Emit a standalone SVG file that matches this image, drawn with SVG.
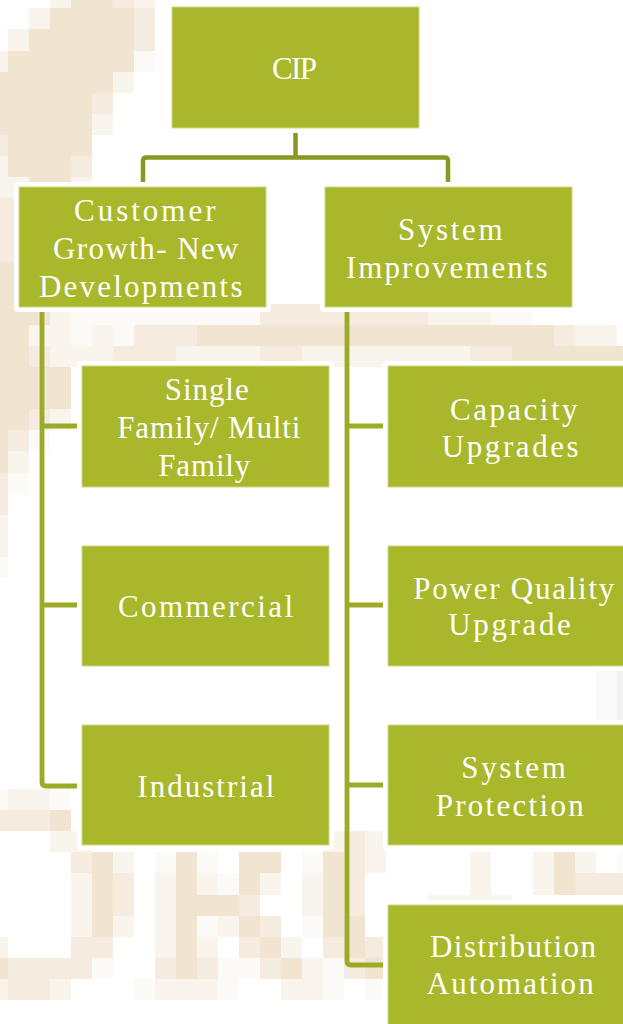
<svg xmlns="http://www.w3.org/2000/svg" width="623" height="1024" viewBox="0 0 623 1024">
  <style>
    .d { fill: #f1e5d1; }
    .m { fill: #f5ecdf; }
    .l { fill: #f9f4ec; }
    .v { fill: #fcfaf6; }
    .frame { fill: #ffffff; }
    .box { fill: #a8b82a; stroke: #cdd88a; stroke-width: 1; }
    .lbl { font-family: "Liberation Serif", "Times New Roman", serif; font-size: 31px; fill: #ffffff; }
    .trunk { fill: none; stroke: #8b981f; stroke-width: 4.5; }
    .rail { fill: none; stroke: #9bab27; stroke-width: 4.8; }
  </style>

  <rect width="623" height="1024" fill="#ffffff"/>

  <!-- pixelated backdrop, one unit = one block -->
  <g id="backdrop" transform="translate(-12.7 -12.8) scale(21 21.1)" shape-rendering="crispEdges">
    <rect x="3" y="0" width="1" height="1" class="l"/><rect x="4" y="0" width="2" height="1" class="d"/><rect x="6" y="0" width="1" height="1" class="m"/><rect x="7" y="0" width="1" height="1" class="l"/>
    <rect x="2" y="1" width="1" height="1" class="l"/><rect x="3" y="1" width="4" height="1" class="d"/><rect x="7" y="1" width="1" height="1" class="m"/>
    <rect x="1" y="2" width="1" height="1" class="l"/><rect x="2" y="2" width="5" height="1" class="d"/><rect x="7" y="2" width="1" height="1" class="m"/>
    <rect x="0" y="3" width="1" height="1" class="l"/><rect x="1" y="3" width="6" height="1" class="d"/><rect x="7" y="3" width="1" height="1" class="v"/>
    <rect x="0" y="4" width="6" height="1" class="d"/><rect x="6" y="4" width="1" height="1" class="l"/>
    <rect x="0" y="5" width="5" height="1" class="d"/><rect x="5" y="5" width="1" height="1" class="m"/>
    <rect x="0" y="6" width="5" height="1" class="d"/><rect x="5" y="6" width="1" height="1" class="l"/>
    <rect x="0" y="7" width="1" height="1" class="m"/><rect x="1" y="7" width="4" height="1" class="d"/>
    <rect x="0" y="8" width="1" height="1" class="l"/><rect x="1" y="8" width="3" height="1" class="d"/><rect x="4" y="8" width="1" height="1" class="m"/>
    <rect x="0" y="9" width="2" height="1" class="l"/><rect x="2" y="9" width="2" height="1" class="d"/><rect x="4" y="9" width="1" height="1" class="l"/>
    <rect x="0" y="10" width="2" height="3" class="m"/><rect x="2" y="10" width="2" height="3" class="d"/>
    <rect x="0" y="13" width="4" height="2" class="d"/>
    <rect x="0" y="15" width="3" height="1" class="d"/><rect x="3" y="15" width="1" height="1" class="l"/><rect x="4" y="15" width="9" height="1" class="v"/><rect x="13" y="15" width="8" height="1" class="m"/><rect x="21" y="15" width="3" height="1" class="l"/><rect x="24" y="15" width="2" height="1" class="v"/>
    <rect x="0" y="16" width="2" height="1" class="d"/><rect x="2" y="16" width="2" height="1" class="l"/><rect x="4" y="16" width="1" height="1" class="v"/><rect x="5" y="16" width="1" height="1" class="l"/><rect x="6" y="16" width="1" height="1" class="v"/><rect x="7" y="16" width="3" height="1" class="m"/><rect x="10" y="16" width="17" height="1" class="d"/><rect x="27" y="16" width="1" height="1" class="m"/><rect x="28" y="16" width="2" height="1" class="l"/>
    <rect x="0" y="17" width="2" height="1" class="d"/><rect x="2" y="17" width="1" height="1" class="m"/><rect x="3" y="17" width="3" height="1" class="l"/><rect x="6" y="17" width="3" height="1" class="m"/><rect x="9" y="17" width="4" height="1" class="l"/><rect x="13" y="17" width="2" height="1" class="m"/><rect x="15" y="17" width="8" height="1" class="l"/><rect x="23" y="17" width="2" height="1" class="m"/><rect x="25" y="17" width="6" height="1" class="d"/>
    <rect x="0" y="18" width="4" height="2" class="d"/>
    <rect x="0" y="20" width="2" height="1" class="d"/><rect x="2" y="20" width="1" height="1" class="m"/><rect x="3" y="20" width="1" height="1" class="l"/>
    <rect x="0" y="21" width="1" height="1" class="d"/><rect x="1" y="21" width="1" height="1" class="m"/><rect x="2" y="21" width="1" height="1" class="v"/>
    <rect x="0" y="22" width="1" height="1" class="d"/><rect x="1" y="22" width="1" height="1" class="l"/>
    <rect x="0" y="23" width="1" height="1" class="m"/><rect x="1" y="23" width="1" height="1" class="v"/>
    <rect x="0" y="24" width="1" height="1" class="m"/>
    <rect x="0" y="25" width="1" height="2" class="l"/>
    <rect x="0" y="27" width="1" height="1" class="v"/>
    <rect x="29" y="32" width="1" height="3" fill="#f9f9f9"/><rect x="30" y="32" width="1" height="3" fill="#f2f2f2"/>
    <rect x="0" y="38" width="1" height="1" class="v"/><rect x="1" y="38" width="2" height="1" class="l"/><rect x="3" y="38" width="1" height="1" class="v"/>
    <rect x="0" y="39" width="3" height="1" class="m"/><rect x="3" y="39" width="1" height="1" class="d"/>
    <rect x="3" y="40" width="2" height="1" class="l"/><rect x="16" y="40" width="1" height="1" class="l"/><rect x="17" y="40" width="1" height="1" class="m"/><rect x="18" y="40" width="1" height="1" class="l"/>
    <rect x="4" y="41" width="1" height="1" class="m"/><rect x="5" y="41" width="1" height="1" class="d"/><rect x="6" y="41" width="1" height="1" class="l"/><rect x="8" y="41" width="1" height="1" class="v"/><rect x="9" y="41" width="1" height="1" class="d"/><rect x="10" y="41" width="1" height="1" class="v"/><rect x="12" y="41" width="2" height="1" class="d"/><rect x="15" y="41" width="1" height="1" class="v"/><rect x="16" y="41" width="1" height="1" class="d"/><rect x="17" y="41" width="1" height="1" class="m"/><rect x="18" y="41" width="1" height="1" class="l"/><rect x="23" y="41" width="1" height="1" class="l"/><rect x="26" y="41" width="1" height="1" class="l"/><rect x="27" y="41" width="1" height="1" class="d"/><rect x="28" y="41" width="1" height="1" class="l"/><rect x="30" y="41" width="1" height="1" class="v"/>
    <rect x="4" y="42" width="1" height="1" class="l"/><rect x="5" y="42" width="1" height="1" class="d"/><rect x="6" y="42" width="1" height="1" class="m"/><rect x="8" y="42" width="1" height="1" class="l"/><rect x="9" y="42" width="1" height="1" class="d"/><rect x="10" y="42" width="1" height="1" class="l"/><rect x="11" y="42" width="1" height="1" class="v"/><rect x="12" y="42" width="1" height="1" class="d"/><rect x="13" y="42" width="1" height="1" class="l"/><rect x="15" y="42" width="1" height="1" class="l"/><rect x="16" y="42" width="1" height="1" class="d"/><rect x="17" y="42" width="1" height="1" class="m"/><rect x="23" y="42" width="1" height="1" class="l"/><rect x="26" y="42" width="1" height="1" class="l"/><rect x="27" y="42" width="1" height="1" class="d"/><rect x="28" y="42" width="3" height="1" class="m"/>
    <rect x="4" y="43" width="1" height="1" class="l"/><rect x="5" y="43" width="1" height="1" class="d"/><rect x="6" y="43" width="1" height="1" class="m"/><rect x="8" y="43" width="1" height="1" class="l"/><rect x="9" y="43" width="3" height="1" class="d"/><rect x="12" y="43" width="1" height="1" class="m"/><rect x="15" y="43" width="1" height="1" class="l"/><rect x="16" y="43" width="1" height="1" class="d"/><rect x="17" y="43" width="1" height="1" class="m"/><rect x="21" y="43" width="4" height="1" class="l"/>
    <rect x="4" y="44" width="1" height="1" class="l"/><rect x="5" y="44" width="1" height="1" class="d"/><rect x="6" y="44" width="1" height="1" class="l"/><rect x="8" y="44" width="1" height="1" class="l"/><rect x="9" y="44" width="1" height="1" class="d"/><rect x="10" y="44" width="1" height="1" class="v"/><rect x="11" y="44" width="1" height="1" class="l"/><rect x="12" y="44" width="1" height="1" class="d"/><rect x="13" y="44" width="1" height="1" class="m"/><rect x="15" y="44" width="1" height="1" class="v"/><rect x="16" y="44" width="2" height="1" class="d"/>
    <rect x="0" y="45" width="1" height="1" class="l"/><rect x="4" y="45" width="2" height="1" class="m"/><rect x="8" y="45" width="1" height="1" class="l"/><rect x="9" y="45" width="1" height="1" class="d"/><rect x="10" y="45" width="1" height="1" class="l"/><rect x="12" y="45" width="1" height="1" class="m"/><rect x="13" y="45" width="1" height="1" class="d"/><rect x="14" y="45" width="1" height="1" class="l"/><rect x="16" y="45" width="1" height="1" class="m"/><rect x="17" y="45" width="1" height="1" class="d"/><rect x="18" y="45" width="1" height="1" class="m"/>
    <rect x="0" y="46" width="1" height="1" class="d"/><rect x="1" y="46" width="4" height="1" class="m"/><rect x="5" y="46" width="1" height="1" class="v"/><rect x="8" y="46" width="1" height="1" class="m"/><rect x="9" y="46" width="1" height="1" class="d"/><rect x="10" y="46" width="1" height="1" class="m"/><rect x="11" y="46" width="2" height="1" class="v"/><rect x="13" y="46" width="1" height="1" class="m"/><rect x="14" y="46" width="1" height="1" class="d"/><rect x="15" y="46" width="1" height="1" class="l"/><rect x="16" y="46" width="1" height="1" class="v"/><rect x="17" y="46" width="1" height="1" class="m"/><rect x="18" y="46" width="1" height="1" class="d"/>
    <rect x="0" y="47" width="1" height="1" class="l"/><rect x="1" y="47" width="2" height="1" class="m"/><rect x="3" y="47" width="1" height="1" class="l"/><rect x="7" y="47" width="1" height="1" class="v"/><rect x="8" y="47" width="3" height="1" class="l"/><rect x="11" y="47" width="1" height="1" class="v"/><rect x="14" y="47" width="2" height="1" class="l"/><rect x="16" y="47" width="1" height="1" class="v"/><rect x="18" y="47" width="1" height="1" class="v"/>
  </g>

  <!-- connectors -->
  <g id="connectors">
    <path class="trunk" d="M295.5,126 V157.5"/>
    <path class="trunk" d="M143,184 V161 Q143,157.5 146.5,157.5 H444.5 Q448,157.5 448,161 V184"/>
    <path class="rail" d="M42,305 V782 Q42,786 46,786 H80"/>
    <path class="rail" d="M42,426 H80"/>
    <path class="rail" d="M42,605 H80"/>
    <path class="rail" d="M347,305 V961 Q347,965 351,965 H386"/>
    <path class="rail" d="M347,426 H386"/>
    <path class="rail" d="M347,605 H386"/>
    <path class="rail" d="M347,785 H386"/>
  </g>

  <g id="node-cip">
    <rect class="frame" x="167" y="2" width="257" height="131" rx="4"/>
    <rect class="box" x="172" y="7" width="247" height="121"/>
    <text class="lbl" x="272" y="79" textLength="45" lengthAdjust="spacing">CIP</text>
  </g>

  <g id="node-customer-growth">
    <rect class="frame" x="14" y="182" width="257" height="130" rx="4"/>
    <rect class="box" x="19" y="187" width="247" height="120"/>
    <text class="lbl" x="74" y="221" textLength="141.5" lengthAdjust="spacing">Customer</text>
    <text class="lbl" x="53" y="259" textLength="185.5" lengthAdjust="spacing">Growth- New</text>
    <text class="lbl" x="39" y="297" textLength="203.5" lengthAdjust="spacing">Developments</text>
  </g>

  <g id="node-system-improvements">
    <rect class="frame" x="320" y="182" width="257" height="130" rx="4"/>
    <rect class="box" x="325" y="187" width="247" height="120"/>
    <text class="lbl" x="398" y="240" textLength="104.5" lengthAdjust="spacing">System</text>
    <text class="lbl" x="346" y="278" textLength="201.5" lengthAdjust="spacing">Improvements</text>
  </g>

  <g id="node-single-family">
    <rect class="frame" x="77" y="361" width="257" height="131" rx="4"/>
    <rect class="box" x="82" y="366" width="247" height="121"/>
    <text class="lbl" x="164.7" y="400" textLength="84" lengthAdjust="spacing">Single</text>
    <text class="lbl" x="117.3" y="437.7" textLength="183" lengthAdjust="spacing">Family/ Multi</text>
    <text class="lbl" x="158.3" y="475.7" textLength="92" lengthAdjust="spacing">Family</text>
  </g>

  <g id="node-commercial">
    <rect class="frame" x="77" y="541" width="257" height="130" rx="4"/>
    <rect class="box" x="82" y="546" width="247" height="120"/>
    <text class="lbl" x="118" y="616.7" textLength="175" lengthAdjust="spacing">Commercial</text>
  </g>

  <g id="node-industrial">
    <rect class="frame" x="77" y="720" width="257" height="130" rx="4"/>
    <rect class="box" x="82" y="725" width="247" height="120"/>
    <text class="lbl" x="137.3" y="796.7" textLength="137" lengthAdjust="spacing">Industrial</text>
  </g>

  <g id="node-capacity">
    <rect class="frame" x="383" y="361" width="257" height="131" rx="4"/>
    <rect class="box" x="388" y="366" width="247" height="121"/>
    <text class="lbl" x="450" y="420" textLength="127.5" lengthAdjust="spacing">Capacity</text>
    <text class="lbl" x="441.7" y="456.7" textLength="137" lengthAdjust="spacing">Upgrades</text>
  </g>

  <g id="node-power-quality">
    <rect class="frame" x="383" y="541" width="257" height="130" rx="4"/>
    <rect class="box" x="388" y="546" width="247" height="120"/>
    <text class="lbl" x="413.3" y="599" textLength="201" lengthAdjust="spacing">Power Quality</text>
    <text class="lbl" x="448.3" y="635" textLength="122.5" lengthAdjust="spacing">Upgrade</text>
  </g>

  <g id="node-system-protection">
    <rect class="frame" x="383" y="720" width="257" height="130" rx="4"/>
    <rect class="box" x="388" y="725" width="247" height="120"/>
    <text class="lbl" x="461.3" y="777.7" textLength="104.5" lengthAdjust="spacing">System</text>
    <text class="lbl" x="435.7" y="815.7" textLength="148" lengthAdjust="spacing">Protection</text>
  </g>

  <g id="node-distribution-automation">
    <rect class="frame" x="383" y="900" width="257" height="130" rx="4"/>
    <rect class="box" x="388" y="905" width="247" height="125"/>
    <text class="lbl" x="430" y="956.7" textLength="166" lengthAdjust="spacing">Distribution</text>
    <text class="lbl" x="426.7" y="994.3" textLength="167" lengthAdjust="spacing">Automation</text>
  </g>
</svg>
